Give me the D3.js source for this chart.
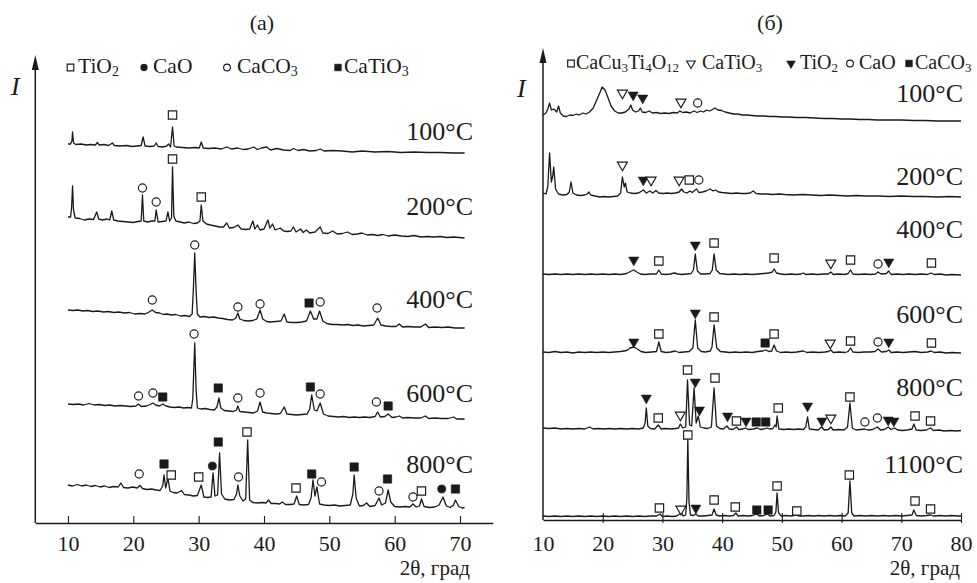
<!DOCTYPE html>
<html>
<head>
<meta charset="utf-8">
<script src="https://cdn.jsdelivr.net/npm/d3@7"></script>
<style>
  body { margin: 0; background: #fff; }
  svg text { font-family: "Liberation Serif", "Times New Roman", serif; fill: #1c1c1c; }
</style>
</head>
<body>
<div id="chart"></div>
<script>
// XRD patterns, two panels — D3 v7
// values: [2theta, intensity above the pattern's own baseline]

// === data: panel (a) ===
const ticksA = [10, 20, 30, 40, 50, 60, 70];
const tempsA = ["100°C", "200°C", "400°C", "600°C", "800°C"];
const baseA  = [370, 285, 195, 104, 15];          // stacking level of each pattern
const phasesA = ["TiO2", "CaO", "CaCO3", "CaTiO3"];

const a100 = [[10,9],[10.4,9],[10.6,12],[10.7,21],[10.85,10],[11.2,8.5],[12,9],[12.8,8],[13.5,8.5],[14.2,8],[14.5,10.5],[14.8,8],[15.5,8.5],[16.2,7.5],[16.8,10],[17.1,7.5],[18,7],[19,7.5],[19.8,6.5],[20.5,7],[21.2,7.5],[21.5,16],[21.8,7],[22.5,6.5],[23.2,7],[23.5,10],[23.8,6.5],[24.5,6],[25.1,7],[25.4,9],[25.7,6],[26.0,26],[26.25,7],[26.6,6],[27.5,5.5],[28.5,5],[29.5,5.5],[30.1,5],[30.4,11],[30.7,5],[31.5,4.5],[32.5,5],[33.5,4],[34.3,6],[35,4],[36,5],[36.8,3.5],[37.6,4],[38.4,6],[39,3.5],[39.6,5],[40.4,6],[41,3],[42,4.5],[43,3],[44,2.5],[44.5,4.5],[45.2,2.5],[46,3.5],[47,2],[48,2.5],[48.6,4],[49.2,2],[50.5,2.5],[52,2],[53.5,1],[55,2],[57,1],[59,1.5],[61,0.5],[63,1],[65,0.5],[67,0.5],[69,0],[70.7,0]];

const a200 = [[10,21],[10.4,21],[10.55,30],[10.7,52],[10.85,28],[11.1,20],[11.8,19.5],[12.5,18],[13.2,19],[13.9,18.5],[14.4,26],[14.7,19],[15.3,18],[16,19],[16.4,18],[16.7,27],[17,18],[17.6,17],[18.4,16.5],[19.2,16],[20,15.5],[20.7,16.5],[21.2,17],[21.4,43],[21.6,17],[22.2,16],[22.8,17],[23.3,17],[23.5,28],[23.8,16],[24.4,16.5],[25,17],[25.3,26],[25.55,17],[25.85,20],[26.0,71],[26.2,22],[26.5,17],[27.2,16],[27.8,15],[28.5,16],[29.2,14.5],[29.8,15],[30.2,17],[30.4,33],[30.65,17],[31.2,14],[31.8,13],[32.5,12],[33.2,11],[33.8,11],[34.3,15],[34.7,10],[35.4,10.5],[36,13],[36.5,9],[37.2,8.5],[37.8,9],[38.3,17],[38.6,9],[39,13],[39.4,8],[40,9],[40.6,18],[40.9,10],[41.3,14],[41.7,8],[42.5,10],[43,7],[43.6,6.5],[44.1,7],[44.5,11],[44.9,6],[45.6,9],[46,5.5],[46.5,8],[47,5],[47.8,6],[48.6,11],[49,5],[49.8,4.5],[50.5,7],[51.2,4],[52,4.5],[52.8,6],[53.5,3.5],[54.3,4],[55,5],[55.8,3],[56.6,3.5],[57.4,2.5],[58.2,3.5],[59,2],[60,3],[61,2],[62,1.5],[63,2.5],[64,1],[65,1.5],[66,1],[67,1.5],[68,0.5],[69,1],[70.7,0]];

const a400 = [[10,18],[10.8,17.5],[11.5,18],[12.3,17],[13,17.5],[13.8,16.5],[14.6,17],[15.4,16],[16.2,16.5],[17,15.5],[17.8,16],[18.6,15],[19.4,15.5],[20.2,14],[21,14.5],[21.8,14],[22.4,16],[22.9,18],[23.4,15.5],[24,15],[24.6,13.5],[25.2,14],[25.8,13],[26.5,13.5],[27.2,12],[27.9,12.5],[28.6,11.5],[29.0,14],[29.2,40],[29.4,75],[29.6,38],[29.8,14],[30.2,11],[30.9,11.5],[31.6,10.5],[32.3,11],[33,10],[33.7,9.5],[34.4,8.5],[35.2,8],[35.7,10],[36,15],[36.3,9],[36.9,7.5],[37.6,7],[38.3,7.5],[38.9,9],[39.4,18],[39.8,9],[40.4,6.5],[41,6],[41.8,6.5],[42.6,7],[43.1,14],[43.5,6],[44.2,5.5],[45,5.5],[45.8,6],[46.5,7],[47.1,17],[47.6,9],[48.1,9],[48.5,17],[49,7],[49.6,4.5],[50.4,3.5],[51.2,3.5],[52,3],[52.8,3.5],[53.6,2.5],[54.4,3],[55.2,2],[56,2.5],[56.8,3],[57.4,10],[57.9,3],[58.6,2],[59.4,1.5],[60.2,1.5],[60.7,4],[61.2,1],[62,1.5],[63,1],[64,1],[64.7,4],[65.2,0.5],[66.2,1],[67.2,0.5],[68.2,1],[69.2,0],[70.7,0]];

const a600 = [[10,15],[10.8,14.5],[11.6,15],[12.4,14],[13.2,15.5],[14,14],[14.8,14.5],[15.6,13.5],[16.4,14],[17.2,13],[18,13.5],[18.8,13],[19.6,12.5],[20.4,13],[20.8,15],[21.2,12.5],[22,13],[22.6,14.5],[23,16],[23.4,14],[24,13],[24.5,15],[25,13],[25.6,12],[26.3,11.5],[27,12],[27.7,11],[28.3,11.5],[28.9,11],[29.1,20],[29.4,76],[29.6,30],[29.8,11],[30.3,10],[31,10.5],[31.7,9.5],[32.4,9],[32.8,12],[33.1,21],[33.4,11],[33.9,8.5],[34.6,8],[35.3,7.5],[35.8,9],[36,13],[36.3,7.5],[37,7],[37.7,6.5],[38.4,6],[39,8],[39.4,17],[39.8,7],[40.4,6],[41.1,5.5],[41.8,5],[42.5,5.5],[43.1,12],[43.5,5],[44.2,4.5],[45,4],[45.8,4.5],[46.6,5],[47,10],[47.3,24],[47.7,9],[48.1,8],[48.6,16],[49.1,5],[49.8,3],[50.6,2.5],[51.4,2],[52.2,2.5],[53,1.5],[53.8,2],[54.6,1.5],[55.4,2],[56.2,1.5],[57,2.5],[57.4,7],[57.8,2],[58.5,2.5],[59,5],[59.6,1.5],[60.2,2],[60.7,3],[61.2,1],[62,1.5],[63,1],[64,1],[64.7,3],[65.2,0.5],[66.2,1],[67.2,0.5],[68.2,0.5],[69,2],[69.5,0],[70.7,0]];

const a800 = [[10,23],[10.7,22],[11.4,23.5],[12.1,22],[12.8,23],[13.5,21.5],[14.2,22.5],[14.9,21],[15.6,22],[16.3,20.5],[17,21.5],[17.7,21],[18.1,25],[18.5,20.5],[19.2,20],[19.9,21],[20.6,20],[21,22.5],[21.4,19.5],[22.1,18.5],[22.8,19],[23.5,18],[24.1,17.5],[24.5,22],[24.7,33],[24.95,20],[25.3,30],[25.6,17],[26.1,15.5],[26.7,15],[27.4,17.5],[27.8,13.5],[28.5,13],[29.2,12],[29.8,12.5],[30.4,23],[30.8,11],[31.4,10.5],[31.9,11],[32.2,35],[32.5,12],[32.9,13],[33.2,55],[33.5,14],[34,9],[34.7,8],[35.4,8.5],[35.8,14],[36,23],[36.3,12],[36.8,7],[37.2,9],[37.5,68],[37.8,8],[38.3,5.5],[39,5],[39.7,5.5],[40.3,5],[40.7,8],[41.1,4.5],[41.8,4.5],[42.4,4],[42.8,6],[43.3,3.5],[44,3.5],[44.6,4],[45,12],[45.4,3.5],[46.1,3],[46.8,3.5],[47.2,10],[47.5,28],[47.8,12],[48.1,21],[48.5,4],[49.2,3],[50,2.5],[50.8,3],[51.6,2],[52.4,2.5],[53.2,3],[53.6,14],[53.8,33],[54.1,10],[54.6,2],[55.2,2.5],[55.7,5],[56.2,1.5],[57,2.5],[57.6,10],[58,3],[58.6,5],[59,18],[59.4,6],[60,1.5],[60.8,1],[61.6,1.5],[62.3,1],[62.8,4],[63.3,1],[63.8,2],[64.1,9],[64.5,1.5],[65.3,0.5],[66.1,1],[66.8,3],[67.4,11],[67.9,2],[68.5,0.5],[69.0,3],[69.3,8],[69.8,1.5],[70.3,0],[70.7,0.5]];

// phase markers: [pattern index, phase, 2theta, level]
const markersA = [
  [0,"TiO2",26.0,38],
  [1,"CaCO3",21.4,50],[1,"CaCO3",23.5,36],[1,"TiO2",26.0,79],[1,"TiO2",30.4,41],
  [2,"CaCO3",22.9,28],[2,"CaCO3",29.4,83],[2,"CaCO3",36.0,21],[2,"CaCO3",39.4,24],[2,"CaTiO3",46.9,25],[2,"CaCO3",48.6,26],[2,"CaCO3",57.3,20],
  [3,"CaCO3",20.8,23],[3,"CaCO3",23.0,26],[3,"CaTiO3",24.5,22],[3,"CaCO3",29.3,85],[3,"CaTiO3",33.0,31],[3,"CaCO3",36.0,21],[3,"CaCO3",39.4,26],[3,"CaTiO3",47.1,32],[3,"CaCO3",48.6,25],[3,"CaCO3",57.2,17],[3,"CaTiO3",59.0,13],
  [4,"CaCO3",20.9,34],[4,"CaTiO3",24.7,44],[4,"TiO2",25.8,33],[4,"TiO2",30.0,31],[4,"CaO",32.1,42],[4,"CaTiO3",33.0,66],[4,"CaCO3",36.1,31],[4,"TiO2",37.4,76],[4,"TiO2",44.9,20],[4,"CaTiO3",47.3,34],[4,"CaCO3",48.8,26],[4,"CaTiO3",53.8,41],[4,"CaCO3",57.6,17],[4,"CaTiO3",58.9,29],[4,"CaCO3",62.8,11],[4,"TiO2",64.1,17],[4,"CaO",67.2,19],[4,"CaTiO3",69.3,19]
];

// === data: panel (b) ===
const ticksB = [10, 20, 30, 40, 50, 60, 70, 80];
const tempsB = ["100°C", "200°C", "400°C", "600°C", "800°C", "1100°C"];
const baseB  = [399, 323, 245, 167, 89, 3];
const phasesB = ["CaCu3Ti4O12", "CaTiO3", "TiO2", "CaO", "CaCO3"];

const b100 = [[10,6],[10.5,8],[10.8,12],[11.1,18],[11.4,11],[11.8,12],[12.3,9],[12.6,15],[12.9,8],[13.4,5],[13.9,4.5],[14.5,6],[15,5.5],[15.6,7],[16,6],[16.7,8],[17.2,7],[17.8,9],[18.4,13],[19,21],[19.5,28],[19.9,34],[20.4,31],[20.9,23],[21.4,15],[22,10],[22.6,8],[23.2,8],[23.8,9],[24.4,12],[24.7,16],[25,11],[25.5,9],[26,10],[26.3,13],[26.6,9],[27.2,8.5],[27.8,10],[28.3,8],[29,8.5],[29.7,7.5],[30.4,8],[31.1,7.5],[31.8,8.5],[32.5,8],[32.9,10],[33.4,8.5],[34,9],[34.6,8],[35.3,10],[35.8,8.5],[36.4,10],[36.9,9],[37.4,11],[37.9,10],[38.4,11.5],[38.8,13],[39.3,11],[39.9,10.5],[40.5,9],[41.2,8],[41.9,7],[42.6,7],[43.4,6],[44.2,6],[45,5.5],[46,5],[47,5],[48,4.5],[49,4.5],[50,4],[51,4],[52.5,3.5],[54,3.5],[55.5,3],[57,2.5],[58.5,2.5],[60,2],[61.5,2],[63,1.5],[64.5,1.5],[66,1],[68,1],[70,1],[72,0.5],[74,0.5],[76,0],[78,0],[80,0]];

const b200 = [[10,4],[10.5,3],[10.8,10],[11.1,44],[11.4,15],[11.6,20],[11.8,30],[12.1,8],[12.6,3],[13.3,2],[14,2.5],[14.4,5],[14.7,15],[15,4],[15.6,2],[16.3,1.5],[17,2],[17.4,3],[17.7,5],[18,2],[18.7,1],[19.5,0],[20.3,0.5],[21,0],[21.8,0.5],[22.5,1],[23,4],[23.3,20],[23.6,10],[23.8,14],[24.1,5],[24.6,4],[25.3,3.5],[26,4],[26.8,7],[27.3,4],[27.9,6],[28.4,4],[28.9,6.5],[29.4,4],[30.1,3.5],[30.8,4],[31.5,3.5],[32.2,4],[32.8,5],[33.2,8],[33.6,5],[34.1,4],[34.6,6],[35,4.5],[35.7,8],[36.1,4.5],[36.7,5],[37.3,6],[38,8],[38.5,6],[38.9,7],[39.4,5],[40,4.5],[40.8,4],[41.6,3.5],[42.4,4],[43.2,3.5],[44,3.5],[44.7,4],[45.2,6],[45.7,3.5],[46.5,3],[47.5,3],[48.5,2.5],[49.5,3],[50.5,2.5],[52,2],[53.5,2.5],[55,2],[56.5,1.5],[58,2],[59.5,1.5],[61,1],[62.5,1.5],[64,1],[66,1],[68,0.5],[70,1],[72,0.5],[74,0.5],[76,0],[78,0.5],[80,0]];

const b400 = [[10,1],[11,0.5],[12,1],[13,0.5],[14,1],[15,0.5],[16,1],[17,0.5],[18,1],[19,0.5],[20,1],[21,0.5],[22,1],[23,0.5],[24,1.5],[24.8,4],[25.2,5],[25.7,3],[26.3,1],[27,0.5],[28,1],[29,1],[29.4,5],[29.8,1],[30.5,0.5],[31.3,1],[32,2],[32.6,1],[33.3,0.5],[34,1],[34.8,1.5],[35.2,5],[35.5,21],[35.85,4],[36.4,1],[37.2,1],[38,1.5],[38.35,5],[38.65,21],[39,5],[39.6,1.5],[40.3,1],[41,0.5],[42,1],[43,0.5],[44,1],[45,0.5],[46,1],[47,1.5],[47.8,2],[48.4,3],[48.7,6],[49.1,2],[49.8,1],[50.6,0.5],[51.5,1],[52.4,0.5],[53.2,1],[53.6,2],[54,0.5],[55,1],[56,0.5],[57,1],[57.8,1],[58.2,3],[58.6,0.5],[59.5,1],[60.5,0.5],[61.1,1.5],[61.5,5],[61.9,1],[62.8,0.5],[63.8,1],[64.8,0.5],[65.7,1],[66.1,3],[66.6,1],[67.5,1.5],[67.9,4],[68.3,0.5],[69.3,1],[70.3,0.5],[71.3,1],[72.3,0.5],[73.3,1],[74.4,0.5],[75,2],[75.5,0.5],[76.5,1],[77.5,0],[78.5,0.5],[80,0]];

const b600 = [[10,1],[11,0.5],[12,1.5],[13,0.5],[14,1],[15,0],[16,1],[17,0.5],[18,1],[19,0.5],[20,1],[21,0.5],[22,1],[23,1.5],[24,2.5],[24.6,5],[25.2,6],[25.8,4],[26.4,1.5],[27.2,0.5],[28.2,1],[29,1.5],[29.4,11],[29.8,1.5],[30.6,0.5],[31.4,1],[32.1,2],[32.8,0.5],[33.6,1],[34.5,1.5],[35.1,5],[35.5,33],[35.9,5],[36.5,1.5],[37.2,1],[38,2],[38.3,6],[38.65,28],[39.1,5],[39.7,1.5],[40.5,1],[41.3,0.5],[42.2,1],[43,0.5],[44,1],[45,0.5],[46,1.5],[46.8,2],[47.3,3],[47.8,1.5],[48.3,2],[48.7,8],[49.1,2],[49.8,0.5],[50.7,1],[51.6,0.5],[52.5,1],[53.6,2],[54.2,0.5],[55.2,1],[56.2,0.5],[57.2,1],[57.8,1.5],[58.2,3],[58.6,0.5],[59.6,1],[60.6,0.5],[61.1,1.5],[61.5,5],[61.9,1],[62.8,0.5],[63.8,1],[64.8,1],[65.6,1.5],[66.1,4],[66.7,1],[67.5,1.5],[67.9,3],[68.3,0.5],[69.3,1],[70.3,0.5],[71.3,1],[72.3,1.5],[73.3,0.5],[74.4,1],[75,2],[75.5,0.5],[76.5,1],[77.5,0],[78.5,0.5],[80,0]];

const b800 = [[10,3],[11,2.5],[12,3],[13,2],[14,2.5],[15,2],[16,2.5],[17,2],[17.8,4],[18.4,2],[19.3,2.5],[20.2,2],[21.1,2.5],[22,2],[23,2.5],[24,2],[25,2.5],[26,2],[26.8,3],[27.1,8],[27.3,23],[27.55,5],[28,2.5],[28.7,2],[29.3,6],[29.8,2],[30.6,2.5],[31.4,2],[32.2,2.5],[32.7,3],[33,7],[33.4,3],[33.9,4],[34.2,51],[34.55,6],[34.9,5],[35.3,43],[35.65,8],[36,15],[36.35,4],[36.9,3],[37.6,2.5],[38.2,4],[38.65,43],[39.05,5],[39.6,2.5],[40.2,2],[40.8,5],[41.2,2],[41.8,1.5],[42.4,4],[42.8,1.5],[43.5,2],[43.9,3],[44.4,1.5],[45.2,2],[45.9,3],[46.4,1.5],[47,2],[47.5,3],[48,2],[48.5,2.5],[48.85,6],[49.05,4],[49.2,15],[49.5,2],[50.3,1.5],[51.2,2],[52,1.5],[52.8,2],[53.6,1.5],[54,4],[54.3,14],[54.6,2],[55.3,1.5],[56.1,1],[56.65,4],[57.1,1],[57.8,1.5],[58.2,4],[58.6,1],[59.5,1.5],[60.4,1],[61,4],[61.4,28],[61.8,3],[62.4,1],[63.2,1.5],[63.9,2],[64.4,1],[65.2,1.5],[66,4],[66.5,1],[67.2,1.5],[67.8,4],[68.3,1.5],[68.9,3],[69.4,1],[70.2,0.5],[71,1],[71.8,2],[72.1,7],[72.5,1],[73.3,0.5],[74.2,1],[74.9,3],[75.4,0.5],[76.3,1],[77.2,0],[78.2,0.5],[79.2,0],[80,0.5]];

const b1100 = [[10,1],[11,0.5],[12,1],[13,0.5],[14,1],[15,0.5],[16,1],[17,0.5],[18,1],[19,0.5],[20,1],[21,0.5],[22,1],[23,0.5],[24,1],[25,0.5],[26,1],[27,0.5],[28,1],[29,1],[29.6,3],[30,0.5],[30.8,1],[31.6,0.5],[32.4,1],[33.1,4],[33.5,1],[33.9,2],[34.1,20],[34.25,79],[34.45,15],[34.7,2],[35.2,1.5],[35.6,3],[36,1],[36.8,1],[37.6,1.5],[38.3,2],[38.65,8],[39,2],[39.6,1],[40.4,1.5],[41.2,1],[41.9,1.5],[42.3,4],[42.7,1],[43.5,1.5],[44.3,1],[45.1,1.5],[45.8,3],[46.2,1],[47,1.5],[47.6,3],[48,1],[48.7,1.5],[49.0,5],[49.2,24],[49.45,4],[49.9,1],[50.7,1.5],[51.5,1],[52,1.5],[52.4,2],[52.8,1],[53.6,1],[54.4,1.5],[55.3,1],[56.2,1.5],[57.1,1],[58,1.5],[58.9,1],[59.8,1.5],[60.6,1],[61.1,4],[61.4,36],[61.7,4],[62.1,1],[63,1.5],[64,1],[65,1.5],[66,1],[67,1.5],[68,1],[69,1.5],[70,1],[71,1.5],[71.8,2],[72.1,7],[72.5,1.5],[73.3,1],[74.2,1.5],[74.9,2],[75.4,1],[76.4,1.5],[77.4,1],[78.4,1.5],[79.4,1],[80,1]];

const markersB = [
  [0,"CaTiO3",23.3,28],[0,"TiO2",25.1,26],[0,"TiO2",26.7,23],[0,"CaTiO3",33.1,19],[0,"CaO",35.9,18],
  [1,"CaTiO3",23.3,32],[1,"TiO2",26.8,17],[1,"CaTiO3",28.1,17],[1,"CaTiO3",32.8,17],[1,"CaCu3Ti4O12",34.5,17],[1,"CaO",36.1,17],
  [2,"TiO2",25.2,15],[2,"CaCu3Ti4O12",29.4,14],[2,"TiO2",35.5,30],[2,"CaCu3Ti4O12",38.65,32],[2,"CaCu3Ti4O12",48.7,17],[2,"CaTiO3",58.2,12],[2,"CaCu3Ti4O12",61.5,15],[2,"CaO",66.1,11],[2,"TiO2",67.9,13],[2,"CaCu3Ti4O12",75.05,12],
  [3,"TiO2",25.2,11],[3,"CaCu3Ti4O12",29.4,19],[3,"TiO2",35.5,40],[3,"CaCu3Ti4O12",38.65,36],[3,"CaCO3",47.2,10],[3,"CaCu3Ti4O12",48.7,19],[3,"CaTiO3",58.1,10],[3,"CaCu3Ti4O12",61.5,12],[3,"CaO",66.1,11],[3,"TiO2",67.9,11],[3,"CaCu3Ti4O12",75.05,10],
  [4,"TiO2",27.3,33],[4,"CaCu3Ti4O12",29.3,13],[4,"CaTiO3",33.0,16],[4,"CaCu3Ti4O12",34.2,61],[4,"TiO2",35.5,49],[4,"TiO2",36.2,21],[4,"CaCu3Ti4O12",38.8,53],[4,"TiO2",40.9,15],[4,"CaCu3Ti4O12",42.4,10],[4,"TiO2",44.0,10],[4,"CaCO3",45.7,9],[4,"CaCO3",47.3,9],[4,"CaCu3Ti4O12",49.4,23],[4,"TiO2",54.3,25],[4,"TiO2",56.7,10],[4,"CaTiO3",58.2,13],[4,"CaCu3Ti4O12",61.4,34],[4,"CaO",63.9,9],[4,"CaO",66.0,13],[4,"TiO2",67.8,11],[4,"TiO2",68.75,10],[4,"CaCu3Ti4O12",72.3,15],[4,"CaCu3Ti4O12",74.9,10],
  [5,"CaCu3Ti4O12",29.5,9],[5,"CaTiO3",33.1,8],[5,"CaCu3Ti4O12",34.25,82],[5,"TiO2",35.6,9],[5,"CaCu3Ti4O12",38.65,17],[5,"CaCu3Ti4O12",42.2,10],[5,"CaCO3",45.8,7],[5,"CaCO3",47.7,7],[5,"CaCu3Ti4O12",49.2,31],[5,"CaCu3Ti4O12",52.5,6],[5,"CaCu3Ti4O12",61.3,42],[5,"CaCu3Ti4O12",72.3,16],[5,"CaCu3Ti4O12",74.9,8]
];

const patternsA = [a100, a200, a400, a600, a800];
const patternsB = [b100, b200, b400, b600, b800, b1100];

// === sizing / layout ===
const W = 977, H = 583;
const svg = d3.select("#chart").append("svg").attr("width", W).attr("height", H);

const ink = "#1a1a1a";

// symbol style per phase (shape, filled?)
const styleA = {
  TiO2:   [d3.symbolSquare, false],
  CaO:    [d3.symbolCircle, true],
  CaCO3:  [d3.symbolCircle, false],
  CaTiO3: [d3.symbolSquare, true]
};
const styleB = {
  CaCu3Ti4O12: [d3.symbolSquare, false],
  CaTiO3:      [d3.symbolTriangle, false],
  TiO2:        [d3.symbolTriangle, true],
  CaO:         [d3.symbolCircle, false],
  CaCO3:       [d3.symbolSquare, true]
};
const symSize = t => t === d3.symbolSquare ? 70 : t === d3.symbolCircle ? 52 : 44;

function drawSymbol(g, type, filled, cx, cy, size) {
  const rot = type === d3.symbolTriangle ? " rotate(180)" : "";
  g.append("path")
    .attr("d", d3.symbol(type, size)())
    .attr("transform", `translate(${cx},${cy})${rot}`)
    .attr("fill", filled ? ink : "#fff")
    .attr("stroke", ink)
    .attr("stroke-width", filled ? 0.6 : 1.15);
}

// chemical formula with digits as subscripts
function formula(sel, name, fs) {
  name.split(/(\d+)/).filter(s => s.length).forEach(part => {
    const sub = /^\d+$/.test(part);
    sel.append("tspan")
      .attr("font-size", sub ? fs * 0.65 : fs)
      .attr("baseline-shift", sub ? "-3" : null)
      .text(part);
  });
}

function panel(cfg) {
  const g = svg.append("g");
  const { x, y } = cfg;
  const axisY = y(0);

  // x axis (ticks point up into the plot)
  const xAxis = d3.axisBottom(x)
    .tickValues(cfg.ticks)
    .tickSizeInner(-7).tickSizeOuter(0).tickPadding(cfg.pad)
    .tickFormat(d3.format("d"));
  const xg = g.append("g").attr("transform", `translate(0,${axisY})`).call(xAxis);
  xg.select(".domain").attr("stroke", ink).attr("stroke-width", 1.5);
  xg.selectAll(".tick line").attr("stroke", ink).attr("stroke-width", 1.1)
    .attr("y2", d => cfg.tickMarks.includes(d) ? -7 : 0)
    .attr("y1", d => cfg.tickMarks.includes(d) ? cfg.tickDown : 0);
  xg.selectAll(".tick text")
    .attr("font-family", "Liberation Serif, serif")
    .attr("font-size", 22).attr("fill", ink);

  g.append("text")
    .attr("x", cfg.titleX).attr("y", axisY + cfg.titleDy)
    .attr("text-anchor", "end").attr("font-size", 21)
    .text("2θ, град");

  // y axis with arrow
  const x0 = cfg.yAxisX;
  const top = y(cfg.yTop);
  g.append("line")
    .attr("x1", x0).attr("x2", x0).attr("y1", axisY).attr("y2", top + 10)
    .attr("stroke", ink).attr("stroke-width", 1.5);
  g.append("path")
    .attr("d", `M${x0},${top} L${x0 - 3.5},${top + 15} L${x0 + 3.5},${top + 15} Z`)
    .attr("fill", ink);
  g.append("text")
    .attr("x", cfg.iX).attr("y", cfg.iY)
    .attr("font-size", 26).attr("font-style", "italic")
    .text("I");

  // panel caption
  g.append("text")
    .attr("x", cfg.capX).attr("y", 30)
    .attr("text-anchor", "middle").attr("font-size", 22)
    .text(cfg.caption);

  // patterns
  const line = base => d3.line().x(d => x(d[0])).y(d => y(base + d[1]));
  cfg.patterns.forEach((p, i) => {
    g.append("path")
      .datum(p)
      .attr("fill", "none")
      .attr("stroke", ink)
      .attr("stroke-width", 1.3)
      .attr("stroke-linejoin", "round")
      .attr("d", line(cfg.base[i]));

    g.append("text")
      .attr("x", cfg.labelX)
      .attr("y", y(cfg.base[i] + cfg.labelLift[i]))
      .attr("text-anchor", "end")
      .attr("font-size", 26)
      .text(cfg.temps[i]);
  });

  // markers
  const mg = g.append("g");
  cfg.markers.forEach(([pi, phase, t, lvl]) => {
    const [type, filled] = cfg.style[phase];
    drawSymbol(mg, type, filled, x(t), y(cfg.base[pi] + lvl), symSize(type));
  });

  // legend
  const lg = g.append("g");
  cfg.phases.forEach((ph, i) => {
    const [type, filled] = cfg.style[ph];
    const sz = type === d3.symbolSquare ? 44 : type === d3.symbolCircle ? 36 : 32;
    drawSymbol(lg, type, filled, cfg.legSym[i], cfg.legY - 5.5, sz);
    const t = lg.append("text")
      .attr("x", cfg.legText[i]).attr("y", cfg.legY)
      .attr("font-size", cfg.legFs);
    formula(t, ph, cfg.legFs);
  });
}

// panel (a)
panel({
  x: d3.scaleLinear().domain([5, 75]).range([35.3, 492.7]),
  y: d3.scaleLinear().domain([0, 470]).range([523, 53]),
  ticks: ticksA, tickMarks: ticksA, tickDown: 0, pad: 12,
  titleX: 470, titleDy: 52, yAxisX: 35.3, yTop: 468, iX: 11, iY: 95,
  caption: "(а)", capX: 262,
  patterns: patternsA, base: baseA, temps: tempsA,
  labelX: 473, labelLift: [13, 23, 20, 17, 35],
  markers: markersA, style: styleA, phases: phasesA,
  legSym: [70.5, 144, 227, 338], legText: [78, 153, 237, 344], legY: 73, legFs: 21.5
});

// panel (b)
panel({
  x: d3.scaleLinear().domain([10, 80]).range([543, 961]),
  y: d3.scaleLinear().domain([0, 472]).range([520, 48]),
  ticks: ticksB, tickMarks: [20, 30, 40, 50, 60, 70, 80], tickDown: 3, pad: 15,
  titleX: 960, titleDy: 55, yAxisX: 543, yTop: 472, iX: 517, iY: 97,
  caption: "(б)", capX: 770,
  patterns: patternsB, base: baseB, temps: tempsB,
  labelX: 963, labelLift: [19, 12, 37, 30, 35, 44],
  markers: markersB, style: styleB, phases: phasesB,
  legSym: [571, 691, 791, 850, 909], legText: [576, 702, 800, 859, 915], legY: 69, legFs: 20
});
</script>
</body>
</html>
